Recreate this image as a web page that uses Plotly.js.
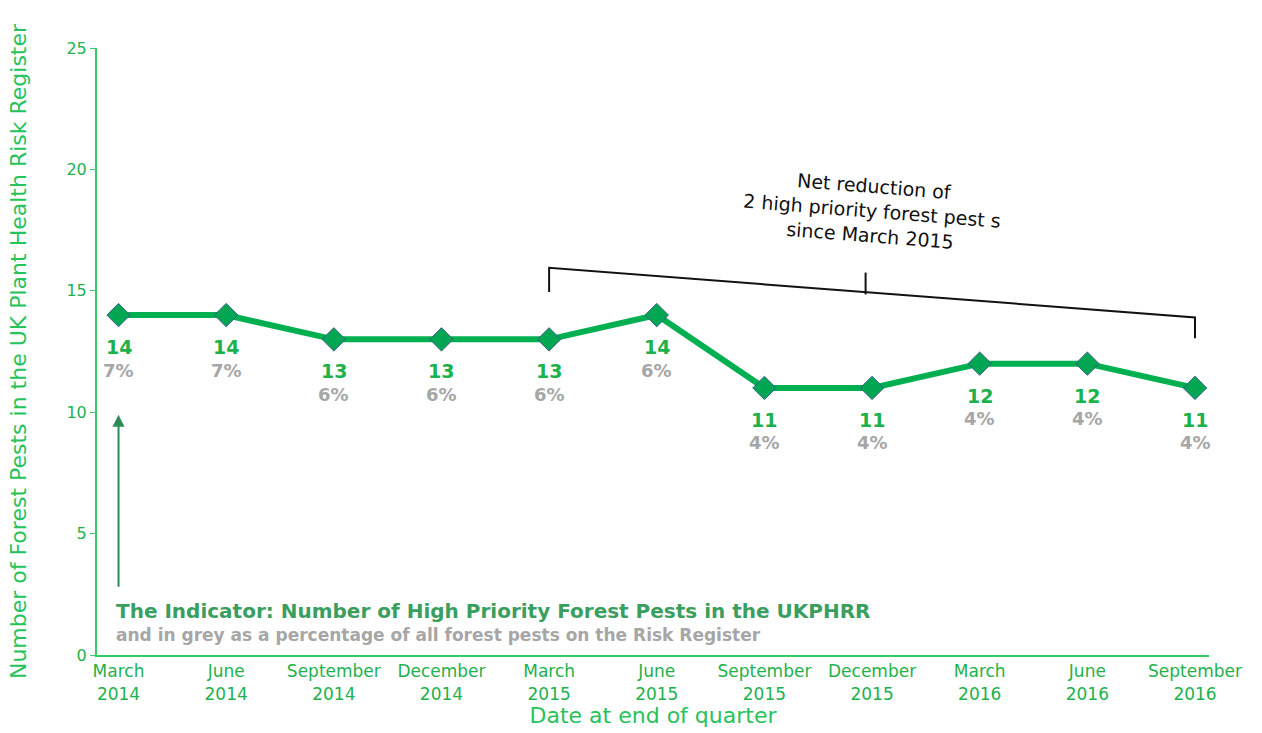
<!DOCTYPE html>
<html>
<head>
<meta charset="utf-8">
<script src="https://cdn.plot.ly/plotly-3.0.1.min.js"></script>
<style>
  html, body { margin: 0; padding: 0; background: #fff; }
  #plotArea { width: 1262px; height: 733px; }
</style>
</head>
<body>
<div id="plotArea"></div>
<script>
// quarters and tick labels
var quarters = ["Mar 2014", "Jun 2014", "Sep 2014", "Dec 2014", "Mar 2015", "Jun 2015",
                "Sep 2015", "Dec 2015", "Mar 2016", "Jun 2016", "Sep 2016"];
var tickLabels = ["March<br>2014", "June<br>2014", "September<br>2014", "December<br>2014",
                  "March<br>2015", "June<br>2015", "September<br>2015", "December<br>2015",
                  "March<br>2016", "June<br>2016", "September<br>2016"];
// number of high priority pests and share of all forest pests (%)
var pests = [14, 14, 13, 13, 13, 14, 11, 11, 12, 12, 11];
var percent = [7, 7, 6, 6, 6, 6, 4, 4, 4, 4, 4];

var green = "#00b050";
var tickGreen = "#22b14c";
var grey = "#a6a6a6";
var font = "DejaVu Sans, Verdana, sans-serif";

var trace = {
    x: quarters,
    y: pests,
    mode: "lines+markers",
    type: "scatter",
    line: {color: green, width: 6},
    marker: {symbol: "diamond", size: 18, color: "#00a651",
             line: {color: "#3b5c8c", width: 1}},
    hoverinfo: "x+y"
};

var annotations = [];
quarters.forEach(function(q, i) {
    annotations.push({
        x: q, y: pests[i], xref: "x", yref: "y",
        text: "<b>" + pests[i] + "</b>", showarrow: false,
        yshift: -32, font: {family: font, size: 19, color: "#1db14b"}
    });
    annotations.push({
        x: q, y: pests[i], xref: "x", yref: "y",
        text: "<b>" + percent[i] + "%</b>", showarrow: false,
        yshift: -55, font: {family: font, size: 18, color: grey}
    });
});

// bracket note
annotations.push({
    x: 7.0, y: 18.3, xref: "x", yref: "y",
    text: "Net reduction of<br>2 high priority forest pest s<br>since March 2015",
    showarrow: false, textangle: 4.5,
    font: {family: font, size: 19, color: "#111"}
});

// indicator arrow
annotations.push({
    x: 0, y: 9.9, ax: 0, ay: 2.75, xref: "x", yref: "y", axref: "x", ayref: "y",
    text: "", showarrow: true, arrowhead: 2, arrowsize: 1.2, arrowwidth: 2,
    arrowcolor: "#2e8b57"
});

// indicator text
annotations.push({
    x: -0.04, y: 1.8, xref: "x", yref: "y", xanchor: "left",
    text: "<b>The Indicator: Number of High Priority Forest Pests in the UKPHRR</b>",
    showarrow: false, font: {family: font, size: 20, color: "#3a9e5f"}
});
annotations.push({
    x: -0.04, y: 0.82, xref: "x", yref: "y", xanchor: "left",
    text: "<b>and in grey as a percentage of all forest pests on the Risk Register</b>",
    showarrow: false, font: {family: font, size: 17, color: grey}
});

var bracket = {type: "path", xref: "x", yref: "y",
    path: "M 4,14.95 L 4,15.95 L 10,13.9 L 10,13.05",
    line: {color: "#111", width: 2}};
var bracketTick = {type: "line", xref: "x", yref: "y",
    x0: 6.94, x1: 6.94, y0: 14.85, y1: 15.75,
    line: {color: "#111", width: 2}};

var layout = {
    width: 1262, height: 733,
    margin: {l: 97, r: 53, t: 48, b: 78},
    paper_bgcolor: "#fff", plot_bgcolor: "#fff",
    showlegend: false,
    font: {family: font, color: tickGreen},
    xaxis: {
        type: "category",
        range: [-0.2, 10.13],
        tickvals: quarters, ticktext: tickLabels,
        showgrid: false, zeroline: false,
        showline: true, linecolor: "#33cc66", linewidth: 2,
        ticks: "", tickfont: {family: font, size: 17, color: tickGreen},
        title: {text: "Date at end of quarter", standoff: 4,
                font: {family: font, size: 22, color: "#27c25a"}}
    },
    yaxis: {
        range: [0, 25], dtick: 5,
        showgrid: false, zeroline: false,
        showline: true, linecolor: "#33cc66", linewidth: 2,
        ticks: "outside", ticklen: 5, tickcolor: "#33cc66",
        tickfont: {family: font, size: 16, color: tickGreen},
        title: {text: "Number of Forest Pests in the UK Plant Health Risk Register", standoff: 34,
                font: {family: font, size: 22, color: "#27c25a"}}
    },
    shapes: [bracket, bracketTick],
    annotations: annotations
};

Plotly.newPlot("plotArea", [trace], layout, {displayModeBar: false});
</script>
</body>
</html>
